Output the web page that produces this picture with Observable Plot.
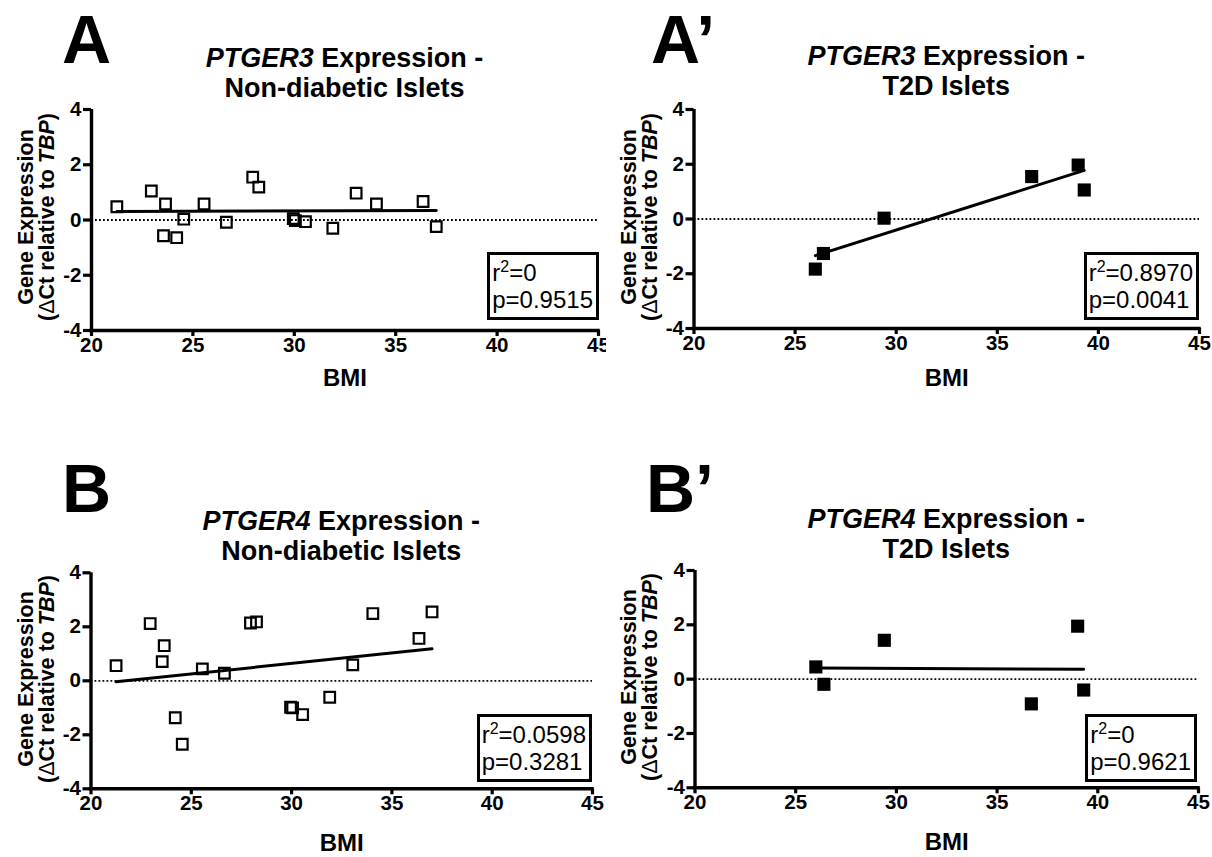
<!DOCTYPE html>
<html>
<head>
<meta charset="utf-8">
<script src="https://cdn.jsdelivr.net/npm/d3@7"></script>
<script src="https://cdn.jsdelivr.net/npm/@observablehq/plot@0.6"></script>
<style>
  body { margin: 0; background: #fff; }
  #fig { position: relative; width: 1212px; height: 857px; overflow: hidden;
         font-family: "Liberation Sans", Arial, Helvetica, sans-serif; color: #000; background: #fff; }
  .abs { position: absolute; }
  .letter { font-size: 68px; font-weight: bold; line-height: 68px; white-space: nowrap; }
  .title { font-size: 27px; font-weight: bold; line-height: 30px; text-align: center; white-space: nowrap; width: 500px; }
  .ylab { font-size: 21.5px; font-weight: bold; line-height: 21px; text-align: center; white-space: nowrap;
          width: 260px; height: 42px; transform: rotate(-90deg); transform-origin: 50% 50%; }
  .stat { font-size: 24px; line-height: 27px; border: 3px solid #000; padding: 4px 3px 4px 2px;
          white-space: nowrap; background: #fff; }
  .stat sup { font-size: 16px; line-height: 0; vertical-align: 9px; }
  svg { display: block; }
  svg text { font-weight: bold; }
</style>
</head>
<body>
<div id="fig"></div>
<script>
// ---------------- data ----------------
const bmiNonDiabetic = [21.25, 22.95, 23.55, 23.65, 24.2, 24.55, 25.55, 26.65, 27.95, 28.25, 29.95, 30.05, 30.55, 31.9, 33.05, 34.05, 36.35, 37.0];
const ptger3NonDiabetic = [0.48, 1.05, -0.57, 0.58, -0.64, 0.03, 0.58, -0.08, 1.55, 1.19, 0.05, -0.02, -0.06, -0.30, 0.97, 0.58, 0.67, -0.24];
const ptger4NonDiabetic = [0.56, 2.12, 0.71, 1.30, -1.37, -2.35, 0.44, 0.28, 2.14, 2.18, -0.98, -1.00, -1.25, -0.61, 0.59, 2.49, 1.57, 2.55];
const bmiT2D = [26.0, 26.4, 29.4, 36.7, 39.0, 39.3];
const ptger3T2D = [-1.83, -1.26, 0.03, 1.55, 1.97, 1.06];
const ptger4T2D = [0.45, -0.19, 1.43, -0.91, 1.95, -0.40];
const xTicks = [20, 25, 30, 35, 40, 45];
const yTicks = [-4, -2, 0, 2, 4];
const panelLetters = ["A", "A\u2019", "B", "B\u2019"];
const genes = ["PTGER3", "PTGER3", "PTGER4", "PTGER4"];
const groups = ["Non-diabetic Islets", "T2D Islets", "Non-diabetic Islets", "T2D Islets"];
const rSquared = ["0", "0.8970", "0.0598", "0"];
const pValues = ["0.9515", "0.0041", "0.3281", "0.9621"];

// ---------------- layout ----------------
const layout = [
  {left: 0,   top: 90,  width: 606, height: 310, ml: 91,   mr: 8,  mt: 19,   mb: 70,   bmiDy: 48, titleTop: 42.6, letterLeft: 62,  letterTop: 5.4, ylabCenter: [37, 217],  statRight: 599,  statBottom: 320},
  {left: 606, top: 90,  width: 606, height: 310, ml: 87.5, mr: 13, mt: 19,   mb: 72,   bmiDy: 50, titleTop: 41,   letterLeft: 651, letterTop: 5.4, ylabCenter: [640, 217], statRight: 1199, statBottom: 320},
  {left: 0,   top: 553, width: 606, height: 304, ml: 90.5, mr: 14, mt: 19.3, mb: 68.7, bmiDy: 55, titleTop: 505.6, letterLeft: 62, letterTop: 454, ylabCenter: [36.5, 679], statRight: 592, statBottom: 782},
  {left: 606, top: 553, width: 606, height: 304, ml: 88.5, mr: 14, mt: 17,   mb: 69.7, bmiDy: 55, titleTop: 503.6, letterLeft: 646, letterTop: 454, ylabCenter: [640, 677], statRight: 1197, statBottom: 782}
];

const series = [
  {x: bmiNonDiabetic, y: ptger3NonDiabetic, filled: false},
  {x: bmiT2D, y: ptger3T2D, filled: true},
  {x: bmiNonDiabetic, y: ptger4NonDiabetic, filled: false},
  {x: bmiT2D, y: ptger4T2D, filled: true}
];

const fig = document.getElementById("fig");
const FONT = '"Liberation Sans", Arial, Helvetica, sans-serif';

function addDiv(cls, html, styles) {
  const d = document.createElement("div");
  d.className = "abs " + cls;
  d.innerHTML = html;
  Object.assign(d.style, styles);
  fig.appendChild(d);
  return d;
}

series.forEach((s, i) => {
  const L = layout[i];
  const rows = s.x.map((b, k) => ({bmi: b, expr: s.y[k]}));
  const dotOpts = s.filled
    ? {x: "bmi", y: "expr", symbol: "square", r: 7.4, fill: "black", stroke: "none"}
    : {x: "bmi", y: "expr", symbol: "square", r: 6.0, fill: "none", stroke: "black", strokeWidth: 2.2};

  const chart = Plot.plot({
    width: L.width, height: L.height,
    marginLeft: L.ml, marginRight: L.mr, marginTop: L.mt, marginBottom: L.mb,
    x: {domain: [20, 45]},
    y: {domain: [-4, 4]},
    style: {fontFamily: FONT, fontSize: "20px", fontWeight: "bold", color: "black", background: "white", overflow: "visible"},
    marks: [
      Plot.ruleY([0], {stroke: "black", strokeWidth: 1.8, strokeDasharray: "1.8,2.2"}),
      Plot.axisX({ticks: xTicks, tickSize: 6, tickPadding: 1, stroke: "black", strokeWidth: 3.2, fontSize: 20.5, fontWeight: "bold", fill: "black", tickFormat: d => String(d), label: null}),
      Plot.axisY({ticks: yTicks, tickSize: 8, tickPadding: 2, stroke: "black", strokeWidth: 3.2, fontSize: 20.5, fontWeight: "bold", fill: "black", tickFormat: d => String(d), label: null}),
      Plot.ruleX([20], {stroke: "black", strokeWidth: 3.4}),
      Plot.ruleY([-4], {stroke: "black", strokeWidth: 3.4, strokeLinecap: "square"}),
      Plot.linearRegressionY(rows, {x: "bmi", y: "expr", ci: 0, stroke: "black", strokeWidth: 3}),
      Plot.dot(rows, dotOpts),
      Plot.text(["BMI"], {text: d => d, frameAnchor: "bottom", dy: L.bmiDy, lineAnchor: "middle", fontSize: 24, fontWeight: "bold", fill: "black"})
    ]
  });
  const wrap = document.createElement("div");
  wrap.className = "abs";
  wrap.style.left = L.left + "px";
  wrap.style.top = L.top + "px";
  wrap.appendChild(chart);
  fig.appendChild(wrap);

  // panel letter
  addDiv("letter", panelLetters[i], {left: L.letterLeft + "px", top: L.letterTop + "px"});

  // title (centered over the frame)
  const cx = L.left + L.ml + (L.width - L.ml - L.mr) / 2;
  addDiv("title", "<i>" + genes[i] + "</i> Expression -<br>" + groups[i], {left: (cx - 250) + "px", top: L.titleTop + "px"});

  // y-axis label
  addDiv("ylab", "Gene Expression<br>(<span style=\"font-weight:normal\">\u0394</span>Ct relative to <i>TBP</i>)",
    {left: (L.ylabCenter[0] - 130) + "px", top: (L.ylabCenter[1] - 21) + "px"});

  // statistics box
  addDiv("stat", "r<sup>2</sup>=" + rSquared[i] + "<br>p=" + pValues[i],
    {right: (1212 - L.statRight) + "px", bottom: (857 - L.statBottom) + "px"});
});
</script>
</body>
</html>
